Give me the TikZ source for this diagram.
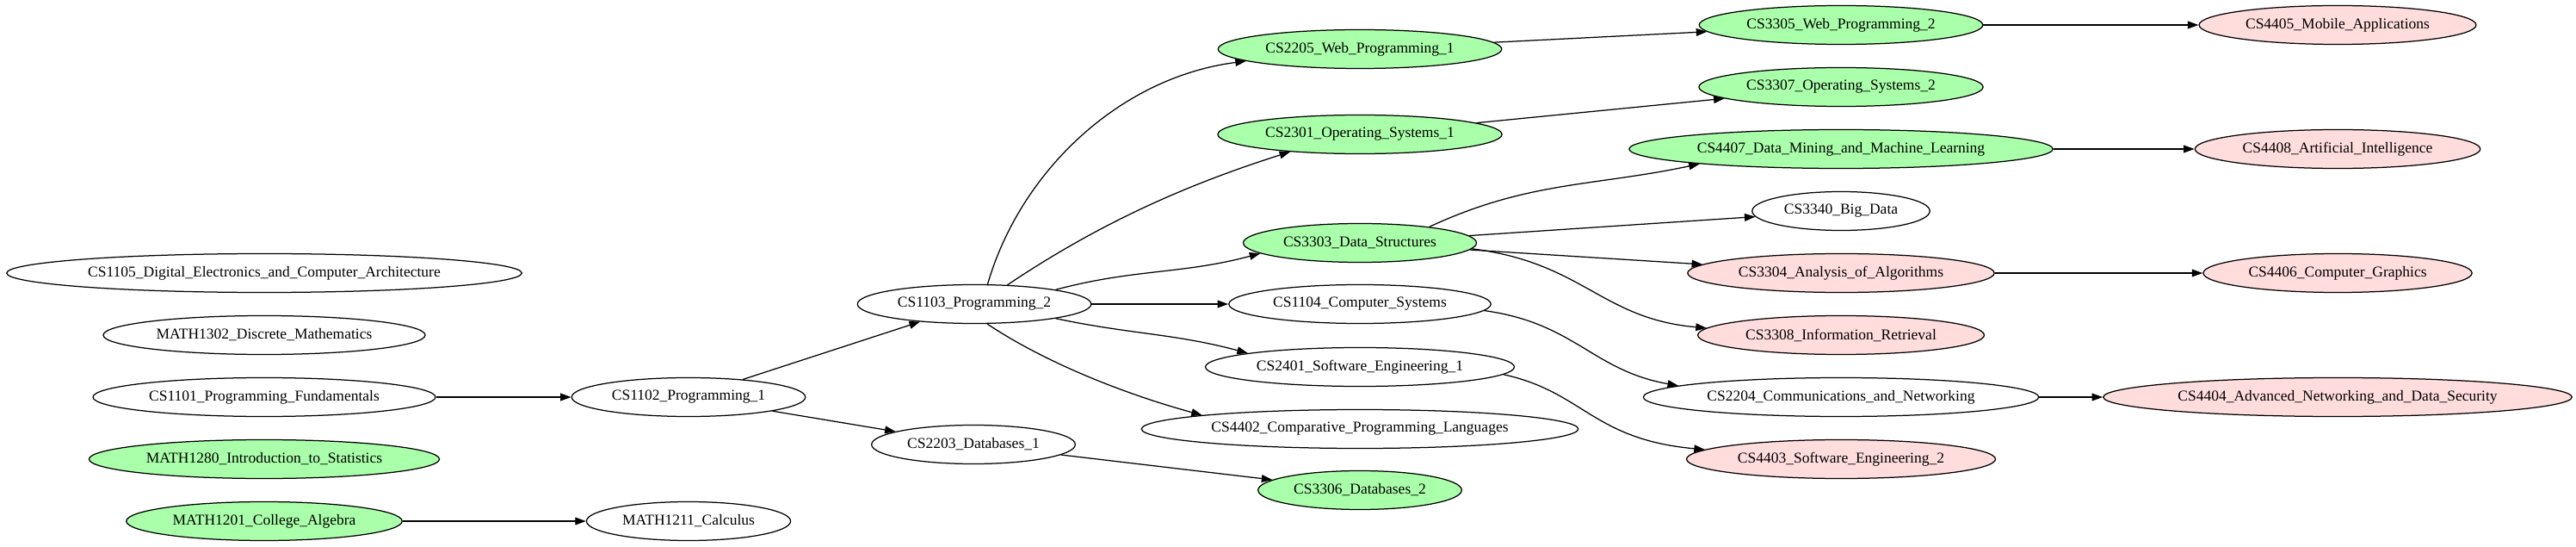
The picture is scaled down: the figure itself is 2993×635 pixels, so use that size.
\documentclass[tikz,border=0pt]{standalone}
\usepackage{fontspec}
\setmainfont{Liberation Serif}
\usepackage{tikz}
\usetikzlibrary{arrows.meta,shapes.geometric}
\definecolor{passed}{HTML}{AAFFAA}
\definecolor{todo}{HTML}{FFDDDD}
\tikzstyle{Course}=[ellipse, draw=black, line width=1pt, minimum height=36pt, inner xsep=5.5pt, inner ysep=0pt, font=\fontsize{14pt}{16pt}\selectfont]
\tikzstyle{Passed}=[Course, fill=passed]
\tikzstyle{Todo}=[Course, fill=todo]
\tikzstyle{Req}=[line width=1pt, -{Triangle[length=10pt,width=7pt]}]

\begin{document}
\begin{tikzpicture}[x=0.8pt, y=0.8pt]
    \useasboundingbox (0,0) rectangle (2993,-635);
    \path
    (307,-317) node[Course] (cs1105) {CS1105\_Digital\_Electronics\_and\_Computer\_Architecture}
    (307,-389) node[Course] (math1302) {MATH1302\_Discrete\_Mathematics}
    (307,-461) node[Course] (cs1101) {CS1101\_Programming\_Fundamentals}
    (307,-533) node[Passed] (math1280) {MATH1280\_Introduction\_to\_Statistics}
    (307,-605) node[Passed] (math1201) {MATH1201\_College\_Algebra}
    (800,-461) node[Course] (cs1102) {CS1102\_Programming\_1}
    (800,-605) node[Course] (math1211) {MATH1211\_Calculus}
    (1132,-353) node[Course] (cs1103) {CS1103\_Programming\_2}
    (1131,-516) node[Course] (cs2203) {CS2203\_Databases\_1}
    (1580,-57) node[Passed] (cs2205) {CS2205\_Web\_Programming\_1}
    (1580,-156) node[Passed] (cs2301) {CS2301\_Operating\_Systems\_1}
    (1580,-282) node[Passed] (cs3303) {CS3303\_Data\_Structures}
    (1580,-353) node[Course] (cs1104) {CS1104\_Computer\_Systems}
    (1580,-426) node[Course] (cs2401) {CS2401\_Software\_Engineering\_1}
    (1580,-498) node[Course] (cs4402) {CS4402\_Comparative\_Programming\_Languages}
    (1580,-569) node[Passed] (cs3306) {CS3306\_Databases\_2}
    (2139,-29) node[Passed] (cs3305) {CS3305\_Web\_Programming\_2}
    (2139,-101) node[Passed] (cs3307) {CS3307\_Operating\_Systems\_2}
    (2139,-173) node[Passed] (cs4407) {CS4407\_Data\_Mining\_and\_Machine\_Learning}
    (2139,-245) node[Course] (cs3340) {CS3340\_Big\_Data}
    (2139,-317) node[Todo] (cs3304) {CS3304\_Analysis\_of\_Algorithms}
    (2139,-389) node[Todo] (cs3308) {CS3308\_Information\_Retrieval}
    (2139,-461) node[Course] (cs2204) {CS2204\_Communications\_and\_Networking}
    (2139,-533) node[Todo] (cs4403) {CS4403\_Software\_Engineering\_2}
    (2716,-29) node[Todo] (cs4405) {CS4405\_Mobile\_Applications}
    (2716,-173) node[Todo] (cs4408) {CS4408\_Artificial\_Intelligence}
    (2716,-317) node[Todo] (cs4406) {CS4406\_Computer\_Graphics}
    (2716,-461) node[Todo] (cs4404) {CS4404\_Advanced\_Networking\_and\_Data\_Security};

    \draw[Req] (cs1101) -- (cs1102);
    \draw[Req] (math1201) -- (math1211);
    \draw[Req] (cs1102) -- (cs1103);
    \draw[Req] (cs1102) -- (cs2203);
    \draw[Req] (cs1103.56) .. controls (1185,-200) and (1300,-90) .. (cs2205.186);
    \draw[Req] (cs1103.30) .. controls (1279,-258) and (1380,-214) .. (cs2301.194);
    \draw[Req] (cs1103.10) to[out=15,in=195] (cs3303.186);
    \draw[Req] (cs1103) -- (cs1104);
    \draw[Req] (cs1103.-10) to[out=-12,in=165] (cs2401.173);
    \draw[Req] (cs1103.-57) .. controls (1216,-422) and (1309,-458) .. (cs4402.175);
    \draw[Req] (cs2203) -- (cs3306);
    \draw[Req] (cs2205) -- (cs3305);
    \draw[Req] (cs2301) -- (cs3307);
    \draw[Req] (cs3303.13) to[out=25,in=192] (cs4407.186);
    \draw[Req] (cs3303) -- (cs3340);
    \draw[Req] (cs3303) -- (cs3304);
    \draw[Req] (cs3303.-3) .. controls (1840,-305) and (1860,-370) .. (cs3308.177);
    \draw[Req] (cs1104.-3) .. controls (1830,-375) and (1850,-430) .. (cs2204.176);
    \draw[Req] (cs2401.-3) .. controls (1840,-455) and (1850,-510) .. (cs4403.176);
    \draw[Req] (cs3305) -- (cs4405);
    \draw[Req] (cs4407) -- (cs4408);
    \draw[Req] (cs3304) -- (cs4406);
    \draw[Req] (cs2204) -- (cs4404);
\end{tikzpicture}
\end{document}
